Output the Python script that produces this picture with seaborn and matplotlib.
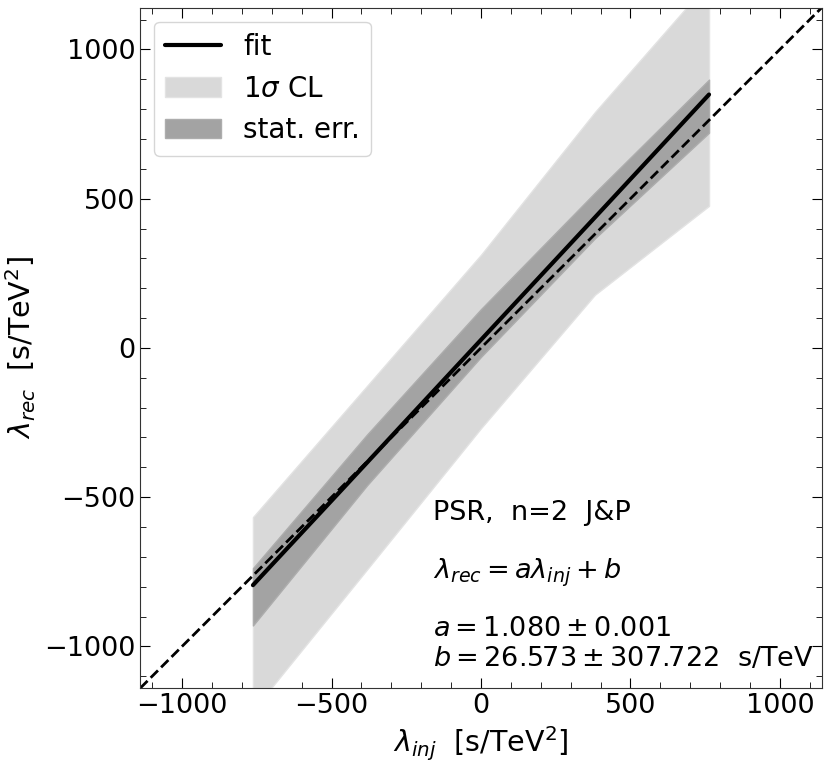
import numpy as np
import pandas as pd
import matplotlib
matplotlib.use("Agg")
import matplotlib.pyplot as plt
import seaborn as sns

# values
lam_inj = [-763, -381, 0, 381, 763]
fit = [-795, -384, 27, 437, 849]
cl_hi = [-567, -127, 312, 790, 1227]
cl_lo = [-1215, -742, -269, 178, 476]
stat_hi = [-738, -290, 130, 520, 899]
stat_lo = [-930, -460, -30, 367, 721]

ticks = [-1000, -500, 0, 500, 1000]
lim = 1140

df = pd.DataFrame({"lam_inj": lam_inj, "fit": fit})

sns.set_style("ticks")
plt.rcParams["font.family"] = ["DejaVu Sans"]
plt.rcParams["mathtext.fontset"] = "dejavusans"
plt.rcParams["text.color"] = "black"
plt.rcParams["axes.labelcolor"] = "black"
plt.rcParams["xtick.color"] = "black"
plt.rcParams["ytick.color"] = "black"
plt.rcParams["axes.edgecolor"] = "#333333"

fig = plt.figure(figsize=(8.3, 7.68), dpi=100)
ax = fig.add_axes([0.169, 0.104, 0.821, 0.886])

ax.fill_between(lam_inj, cl_lo, cl_hi, color="#d9d9d9", label=r"$1\sigma$ CL", lw=1, edgecolor="#e3e3e3")
ax.fill_between(lam_inj, stat_lo, stat_hi, color="#a3a3a3", label="stat. err.", lw=1, edgecolor="#adadad")
sns.lineplot(data=df, x="lam_inj", y="fit", color="black", lw=3, label="fit", ax=ax)
ax.axline((0, 0), slope=1, color="black", ls="--", lw=2)

ax.set_xlim(-lim, lim)
ax.set_ylim(-lim, lim)
ax.set_xticks(ticks)
ax.set_yticks(ticks)
ax.minorticks_on()
ax.tick_params(which="both", direction="in", top=True, right=True, labelsize=19.5)
ax.tick_params(which="major", length=7)
ax.tick_params(which="minor", length=4)

ax.set_xlabel(r"$\lambda_{inj}$  [s/TeV$^2$]", fontsize=20.5)
ax.set_ylabel(r"$\lambda_{rec}$  [s/TeV$^2$]", fontsize=20.5)

h, l = ax.get_legend_handles_labels()
order = [l.index("fit"), l.index(r"$1\sigma$ CL"), l.index("stat. err.")]
ax.legend([h[i] for i in order], [l[i] for i in order], loc="upper left", fontsize=20)

txt = dict(fontsize=19.5, ha="left", va="center")
ax.text(-160, -553, "PSR,  n=2  J&P", **txt)
ax.text(-160, -755, r"$\lambda_{rec} = a\lambda_{inj} + b$", **txt)
ax.text(-160, -993, "$a = 1.080 \\pm 0.001$\n$b = 26.573 \\pm 307.722$  s/TeV", **txt)

fig.savefig("out.png", dpi=100)
